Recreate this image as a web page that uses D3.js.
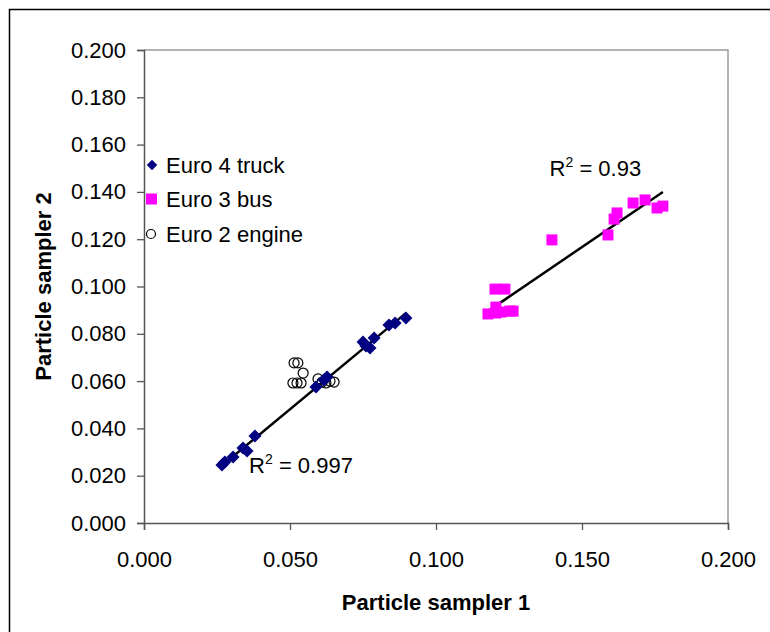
<!DOCTYPE html>
<html>
<head>
<meta charset="utf-8">
<title>Particle sampler comparison</title>
<script src="https://d3js.org/d3.v7.min.js"></script>
<style>
  body { margin: 0; background: #fff; }
  text { font-family: "Liberation Sans", Arial, sans-serif; fill: #000; }
</style>
</head>
<body>
<svg width="770" height="632"></svg>
<script>
    // Euro 4 truck (sampler 1, sampler 2)
    const euro4X = [0.0267, 0.0277, 0.0305, 0.0339, 0.0353, 0.0380, 0.0589, 0.0616, 0.0627,
                    0.0750, 0.0760, 0.0774, 0.0788, 0.0839, 0.0860, 0.0897];
    const euro4Y = [0.0245, 0.0258, 0.0279, 0.0317, 0.0304, 0.0368, 0.0575, 0.0605, 0.0617,
                    0.0765, 0.0748, 0.0740, 0.0782, 0.0837, 0.0846, 0.0867];
    // Euro 3 bus
    const euro3X = [0.1178, 0.1205, 0.1223, 0.1253, 0.1264, 0.1205, 0.1202, 0.1236,
                    0.1397, 0.1589, 0.1610, 0.1620, 0.1675, 0.1716, 0.1757, 0.1777];
    const euro3Y = [0.0884, 0.0888, 0.0892, 0.0896, 0.0896, 0.0913, 0.0989, 0.0989,
                    0.1197, 0.1218, 0.1285, 0.1311, 0.1353, 0.1366, 0.1332, 0.1340];
    // Euro 2 engine
    const euro2X = [0.0514, 0.0527, 0.0545, 0.0510, 0.0524, 0.0538, 0.0596, 0.0610, 0.0623, 0.0637, 0.0651];
    const euro2Y = [0.0677, 0.0677, 0.0634, 0.0592, 0.0592, 0.0592, 0.0609, 0.0596, 0.0592, 0.0600, 0.0596];

    const seriesNames = ["Euro 4 truck", "Euro 3 bus", "Euro 2 engine"];
    const xTicks = [0, 0.05, 0.10, 0.15, 0.20];
    const yTicks = d3.range(0, 0.2001, 0.02);
    const r2Labels = ["0.997", "0.93"];

    const svg = d3.select("svg");
    const plot = {left: 144, right: 728, top: 50, bottom: 523};
    const fs = 22;

    const x = d3.scaleLinear().domain([0, 0.2]).range([plot.left, plot.right]);
    const y = d3.scaleLinear().domain([0, 0.2]).range([plot.bottom, plot.top]);

    svg.append("rect").attr("width", 770).attr("height", 632).attr("fill", "#fff");
    // outer chart frame
    svg.append("rect")
        .attr("x", 9.5).attr("y", 9.5)
        .attr("width", 780).attr("height", 660)
        .attr("fill", "none").attr("stroke", "#000").attr("stroke-width", 1.5);

    // plot area border (top/right)
    svg.append("path")
        .attr("d", `M${plot.left},${plot.top}H${plot.right}V${plot.bottom}`)
        .attr("fill", "none").attr("stroke", "#999").attr("stroke-width", 1.5);

    const fmt = d3.format(".3f");

    const xAxis = svg.append("g")
        .attr("transform", `translate(0,${plot.bottom})`)
        .call(d3.axisBottom(x).tickValues(xTicks).tickFormat(fmt).tickSize(7).tickPadding(21));
    const yAxis = svg.append("g")
        .attr("transform", `translate(${plot.left},0)`)
        .call(d3.axisLeft(y).tickValues(yTicks).tickFormat(fmt).tickSize(7).tickPadding(11));

    [xAxis, yAxis].forEach(a => {
        a.select(".domain").attr("stroke", "#555").attr("stroke-width", 1.5);
        a.selectAll(".tick line").attr("stroke", "#555").attr("stroke-width", 1.3);
        a.selectAll(".tick text")
            .attr("font-family", "Liberation Sans, Arial, sans-serif")
            .attr("font-size", fs).attr("fill", "#000");
    });

    // axis titles
    svg.append("text")
        .attr("x", (plot.left + plot.right) / 2).attr("y", 610)
        .attr("text-anchor", "middle")
        .attr("font-size", fs).attr("font-weight", "bold")
        .text("Particle sampler 1");
    svg.append("text")
        .attr("transform", `translate(51,${(plot.top + plot.bottom) / 2}) rotate(-90)`)
        .attr("text-anchor", "middle")
        .attr("font-size", fs).attr("font-weight", "bold")
        .text("Particle sampler 2");

    // trendlines (least squares over each series' x-range)
    function trend(xs, ys) {
        const mx = d3.mean(xs), my = d3.mean(ys);
        let sxy = 0, sxx = 0;
        xs.forEach((v, i) => { sxy += (v - mx) * (ys[i] - my); sxx += (v - mx) * (v - mx); });
        const b = sxy / sxx, a = my - b * mx;
        const [x0, x1] = d3.extent(xs);
        return [[x0, a + b * x0], [x1, a + b * x1]];
    }
    const line = d3.line().x(d => x(d[0])).y(d => y(d[1]));
    [trend(euro4X, euro4Y), trend(euro3X, euro3Y)].forEach(t => {
        svg.append("path").attr("d", line(t))
            .attr("stroke", "#000").attr("stroke-width", 2.5).attr("fill", "none");
    });

    const diamond = d3.symbol().type(d3.symbolSquare).size(85);

    // Euro 3 bus squares
    svg.append("g").selectAll("rect").data(euro3X).join("rect")
        .attr("x", d => x(d) - 5.5)
        .attr("y", (d, i) => y(euro3Y[i]) - 5.5)
        .attr("width", 11).attr("height", 11)
        .attr("fill", "#ff00ff");

    // Euro 2 engine circles
    svg.append("g").selectAll("circle").data(euro2X).join("circle")
        .attr("cx", d => x(d))
        .attr("cy", (d, i) => y(euro2Y[i]))
        .attr("r", 5)
        .attr("fill", "none").attr("stroke", "#000").attr("stroke-width", 1.2);

    // Euro 4 truck diamonds
    svg.append("g").selectAll("path").data(euro4X).join("path")
        .attr("d", diamond)
        .attr("transform", (d, i) => `translate(${x(d)},${y(euro4Y[i])}) rotate(45)`)
        .attr("fill", "#000080");

    // R² labels
    const r2Pos = [[x(0.0360), y(0.0212)], [x(0.1389), y(0.1466)]];
    r2Labels.forEach((v, i) => {
        const t = svg.append("text")
            .attr("x", r2Pos[i][0]).attr("y", r2Pos[i][1])
            .attr("font-size", fs);
        t.append("tspan").text("R");
        t.append("tspan").attr("font-size", 14).attr("dy", -9).text("2");
        t.append("tspan").attr("dy", 9).text(" = " + v);
    });

    // legend
    const legend = svg.append("g").attr("transform", "translate(152,165)");
    seriesNames.forEach((name, i) => {
        const g = legend.append("g").attr("transform", `translate(0,${i * 34.5})`);
        if (i === 0) {
            g.append("path").attr("d", d3.symbol().type(d3.symbolSquare).size(55))
                .attr("transform", "rotate(45)").attr("fill", "#000080");
        } else if (i === 1) {
            g.append("rect").attr("x", -6).attr("y", -6).attr("width", 11).attr("height", 11)
                .attr("fill", "#ff00ff");
        } else {
            g.append("circle").attr("cx", -1).attr("r", 4.5)
                .attr("fill", "none").attr("stroke", "#000").attr("stroke-width", 1.2);
        }
        g.append("text").attr("x", 14).attr("y", 0).attr("dy", "0.35em")
            .attr("font-size", fs).text(name);
    });
</script>
</body>
</html>
